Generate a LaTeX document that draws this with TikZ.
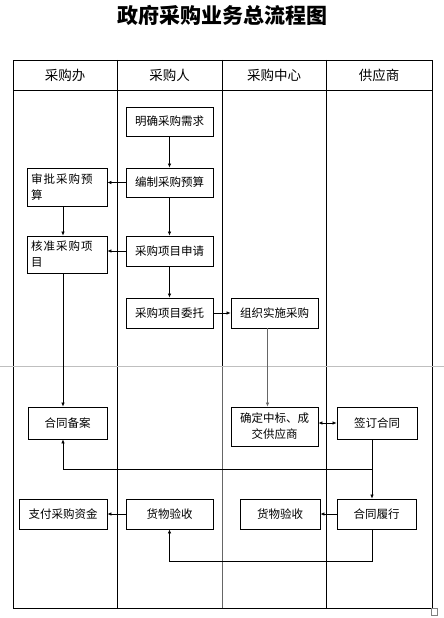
\documentclass[tikz,border=0pt]{standalone}
\usepackage{fontspec}
\newfontfamily\cjk{Noto Sans CJK SC}
\newfontfamily\cjkwide{Noto Sans CJK SC}[LetterSpace=9]
\usetikzlibrary{arrows.meta,calc}
\begin{document}
\begin{tikzpicture}[x=1pt,y=-1pt,
  box/.style={draw=black,line width=0.8pt,inner sep=2pt,font=\cjk\fontsize{11.5}{16}\selectfont,align=center},
  widebox/.style={box,font=\cjkwide\fontsize{11.5}{16}\selectfont,text width=72,align=left},
  hdr/.style={font=\cjk\fontsize{13.5}{16}\selectfont},
  arr/.style={-{Latex[length=4pt,width=3.5pt]},line width=0.7pt},
  tbl/.style={line width=0.9pt}]
\useasboundingbox (0,0) rectangle (444,618);
\fill[white] (0,0) rectangle (444,618);
% title
\node[font=\cjk\bfseries\fontsize{21}{24}\selectfont] (title) at (222,15) {政府采购业务总流程图};
% table
\draw[tbl] (13,60) rectangle (432,608);
\draw[tbl] (13,90) -- (432,90);
\draw[tbl] (117,60) -- (117,608);
\draw[tbl] (222,60) -- (222,366);
\draw[line width=0.7pt,black!60] (222,366) -- (222,608);
\draw[tbl] (326,60) -- (326,608);
\draw[black!25,line width=0.6pt] (0,366) -- (444,366);
\draw[black!50,line width=0.5pt] (431,608) rectangle (437,615);
% headers
\node[hdr] (h1) at (65,75) {采购办};
\node[hdr] (h2) at (169.5,75) {采购人};
\node[hdr] (h3) at (274,75) {采购中心};
\node[hdr] (h4) at (379,75) {供应商};
% boxes
\node[box,minimum width=87,minimum height=29] (need) at (169.5,121.5) {明确采购需求};
\node[box,minimum width=87,minimum height=29] (budget) at (169.5,182.5) {编制采购预算};
\node[widebox,minimum width=80,minimum height=38] (approve) at (67,187) {审批采购预\\算};
\node[box,minimum width=87,minimum height=30] (apply) at (169.5,251) {采购项目申请};
\node[widebox,minimum width=80,minimum height=37] (verify) at (67,254.5) {核准采购项\\目};
\node[box,minimum width=87,minimum height=30] (entrust) at (169.5,313) {采购项目委托};
\node[box,minimum width=87,minimum height=30] (organize) at (274.5,313) {组织实施采购};
\node[box,minimum width=87,minimum height=39,text width=80] (decide) at (274.5,426.5) {确定中标、成\\交供应商};
\node[box,minimum width=80,minimum height=32] (sign) at (377,423) {签订合同};
\node[box,minimum width=79,minimum height=32] (record) at (67.5,423) {合同备案};
\node[box,minimum width=88,minimum height=30] (pay) at (63,514) {支付采购资金};
\node[box,minimum width=87,minimum height=30] (recv2) at (169.5,514) {货物验收};
\node[box,minimum width=80,minimum height=30] (recv3) at (280,514) {货物验收};
\node[box,minimum width=79,minimum height=30] (perform) at (376.5,514) {合同履行};
% junctions
\coordinate (j1) at (372,469);
\coordinate (j2) at (372,561);
% arrows
\draw[arr] (need) -- (budget);
\draw[arr] (budget) -- (approve.east |- budget);
\draw[arr] ([xshift=-4pt]approve.south) -- ([xshift=-4pt]verify.north);
\draw[arr] (budget) -- (apply);
\draw[arr] (apply) -- (verify.east |- apply);
\draw[arr] (apply) -- (entrust);
\draw[arr] (entrust) -- (organize);
\draw[arr,black!60] ([xshift=-7pt]organize.south) -- ([xshift=-7pt]decide.north);
\draw[arr] ([xshift=-4pt]verify.south) -- ([xshift=-4.5pt]record.north);
\draw[{Latex[length=4pt,width=3.5pt]}-{Latex[length=4pt,width=3.5pt]},line width=0.7pt] (decide.east |- sign) -- (sign);
\draw[arr] (sign.south -| j1) -- (j1) -| ([xshift=-4.5pt]record.south);
\draw[arr] (j1) -- (j1 |- perform.north);
\draw[arr] (perform) -- (recv3);
\draw[arr] (perform.south -| j2) -- (j2) -| (recv2.south);
\draw[arr] (recv2) -- (pay);
\end{tikzpicture}
\end{document}
